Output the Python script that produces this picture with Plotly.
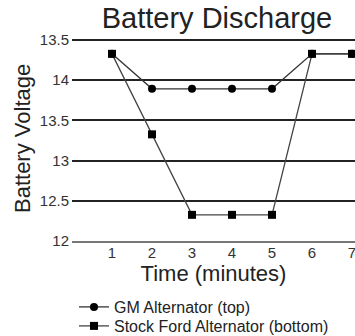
import plotly.graph_objects as go

time_min = [1, 2, 3, 4, 5, 6, 7]
gm_voltage = [14.325, 13.89, 13.89, 13.89, 13.89, 14.325, 14.325]
ford_voltage = [14.325, 13.325, 12.325, 12.325, 12.325, 14.325, 14.325]
y_tick_vals = [12, 12.5, 13, 13.5, 14, 14.5]
y_tick_text = ["12", "12.5", "13", "13.5", "14", "13.5"]
x_tick_vals = [1, 2, 3, 4, 5, 6, 7]

FONT = "Liberation Sans, Arial, sans-serif"

fig = go.Figure()
fig.add_trace(go.Scatter(
    x=time_min, y=ford_voltage, mode="lines+markers",
    name="Stock Ford Alternator (bottom)", legend="legend2",
    line=dict(color="#444444", width=1.3),
    marker=dict(symbol="square", size=8, color="black"),
    cliponaxis=False,
))
fig.add_trace(go.Scatter(
    x=time_min, y=gm_voltage, mode="lines+markers",
    name="GM Alternator (top)", legend="legend",
    line=dict(color="#333333", width=1.3),
    marker=dict(symbol="circle", size=8, color="black"),
    cliponaxis=False,
))

TOP = 37
BOT = 241
H_PX = BOT - TOP
PPU = 80.5  # pixels per volt
legend_common = dict(x=74 / 355, xanchor="left", yanchor="top",
                     yref="container", xref="container",
                     font=dict(size=16, family=FONT, color="#222222"),
                     bgcolor="rgba(0,0,0,0)", itemwidth=30)
fig.update_layout(
    width=355, height=336,
    margin=dict(l=72, r=0, t=TOP, b=336 - BOT, pad=0, autoexpand=False),
    paper_bgcolor="white", plot_bgcolor="white",
    font=dict(family=FONT, color="#222222"),
    title=dict(text="Battery Discharge", x=217 / 355, xanchor="center",
               y=1 - 18 / 336, yanchor="middle",
               font=dict(size=29, family=FONT, color="#222222")),
    showlegend=True,
    legend=dict(y=1 - 290 / 336, **legend_common),
    legend2=dict(y=1 - 309 / 336, **legend_common),
    xaxis=dict(range=[0, 283 / 40], tickvals=x_tick_vals, showgrid=False,
               zeroline=False, showline=True, linecolor="#777777", linewidth=2,
               ticks="", ticklabelstandoff=-3, ticklabeloverflow="allow",
               tickfont=dict(size=15, family=FONT, color="#333333"),
               title=dict(text="Time (minutes)", font=dict(size=22, family=FONT, color="#222222"),
                          standoff=0)),
    yaxis=dict(range=[12, 12 + H_PX / PPU],
               tickvals=y_tick_vals, ticktext=y_tick_text,
               showgrid=True, gridcolor="#222222", gridwidth=1.5,
               zeroline=False, showline=False, ticks="",
               ticklabelstandoff=2,
               tickfont=dict(size=15, family=FONT, color="#333333")),
    annotations=[dict(text="Battery Voltage", textangle=-90, showarrow=False,
                      xref="paper", yref="paper", x=-50 / 283, y=0.5,
                      xanchor="center", yanchor="middle",
                      font=dict(size=22, family=FONT, color="#222222"))],
)
fig.write_html("out.html", config={"displayModeBar": False},
               post_script="document.body.style.margin='0';")
